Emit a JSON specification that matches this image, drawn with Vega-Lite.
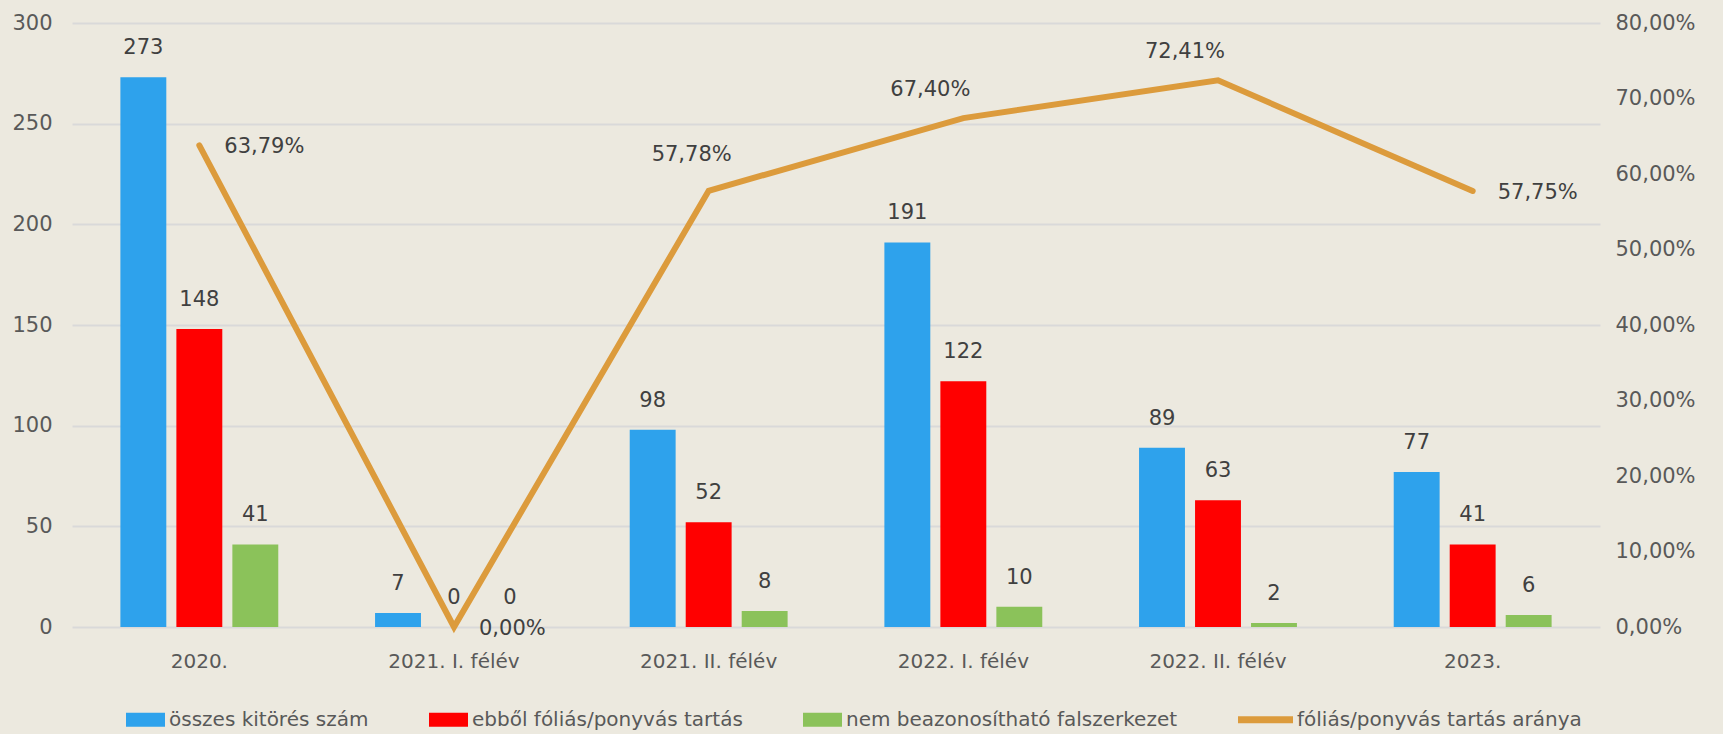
{
  "$schema": "https://vega.github.io/schema/vega-lite/v6.json",
  "width": 1528,
  "height": 604,
  "autosize": {"type": "none"},
  "padding": {"left": 72, "top": 23, "right": 123, "bottom": 107},
  "background": "#ECE9DF",
  "config": {
    "font": "DejaVu Sans",
    "view": {"stroke": null},
    "locale": {"number": {"decimal": ",", "thousands": " ", "grouping": [3], "currency": ["", " Ft"]}}
  },
  "datasets": {
    "bars": [
      {"period": "2020.", "series": "összes kitörés szám", "value": 273},
      {"period": "2020.", "series": "ebből fóliás/ponyvás tartás", "value": 148},
      {"period": "2020.", "series": "nem beazonosítható falszerkezet", "value": 41},
      {"period": "2021. I. félév", "series": "összes kitörés szám", "value": 7},
      {"period": "2021. I. félév", "series": "ebből fóliás/ponyvás tartás", "value": 0},
      {"period": "2021. I. félév", "series": "nem beazonosítható falszerkezet", "value": 0},
      {"period": "2021. II. félév", "series": "összes kitörés szám", "value": 98},
      {"period": "2021. II. félév", "series": "ebből fóliás/ponyvás tartás", "value": 52},
      {"period": "2021. II. félév", "series": "nem beazonosítható falszerkezet", "value": 8},
      {"period": "2022. I. félév", "series": "összes kitörés szám", "value": 191},
      {"period": "2022. I. félév", "series": "ebből fóliás/ponyvás tartás", "value": 122},
      {"period": "2022. I. félév", "series": "nem beazonosítható falszerkezet", "value": 10},
      {"period": "2022. II. félév", "series": "összes kitörés szám", "value": 89},
      {"period": "2022. II. félév", "series": "ebből fóliás/ponyvás tartás", "value": 63},
      {"period": "2022. II. félév", "series": "nem beazonosítható falszerkezet", "value": 2},
      {"period": "2023.", "series": "összes kitörés szám", "value": 77},
      {"period": "2023.", "series": "ebből fóliás/ponyvás tartás", "value": 41},
      {"period": "2023.", "series": "nem beazonosítható falszerkezet", "value": 6}
    ],
    "ratio": [
      {"period": "2020.", "series": "fóliás/ponyvás tartás aránya", "ratio": 0.6379},
      {"period": "2021. I. félév", "series": "fóliás/ponyvás tartás aránya", "ratio": 0.0},
      {"period": "2021. II. félév", "series": "fóliás/ponyvás tartás aránya", "ratio": 0.5778},
      {"period": "2022. I. félév", "series": "fóliás/ponyvás tartás aránya", "ratio": 0.674},
      {"period": "2022. II. félév", "series": "fóliás/ponyvás tartás aránya", "ratio": 0.7241},
      {"period": "2023.", "series": "fóliás/ponyvás tartás aránya", "ratio": 0.5775}
    ]
  },
  "layer": [
    {
      "data": {"name": "bars"},
      "encoding": {
        "x": {
          "field": "period", "type": "nominal",
          "scale": {"domain": ["2020.", "2021. I. félév", "2021. II. félév", "2022. I. félév", "2022. II. félév", "2023."], "paddingInner": 0.38, "paddingOuter": 0.19},
          "axis": {"title": null, "labelAngle": 0, "labelFontSize": 20, "labelColor": "#595959", "ticks": false, "tickSize": 0, "domain": false, "labelPadding": 24, "grid": false}
        },
        "xOffset": {
          "field": "series", "type": "nominal",
          "scale": {"domain": ["összes kitörés szám", "ebből fóliás/ponyvás tartás", "nem beazonosítható falszerkezet"], "paddingInner": 0.18, "paddingOuter": 0}
        },
        "y": {
          "field": "value", "type": "quantitative",
          "scale": {"domain": [0, 300], "nice": false},
          "axis": {"title": null, "values": [0, 50, 100, 150, 200, 250, 300], "grid": true, "gridColor": "#D9D9D9", "gridWidth": 2, "domain": false, "ticks": false, "tickSize": 0, "labelFontSize": 21, "labelColor": "#595959", "labelPadding": 20}
        }
      },
      "layer": [
        {
          "mark": {"type": "bar"},
          "encoding": {
            "color": {
              "field": "series", "type": "nominal",
              "scale": {
                "domain": ["összes kitörés szám", "ebből fóliás/ponyvás tartás", "nem beazonosítható falszerkezet", "fóliás/ponyvás tartás aránya"],
                "range": ["#2EA2EC", "#FF0000", "#8BC25A", "#DC9B3C"]
              },
              "legend": {
                "title": null,
                "orient": "none",
                "direction": "horizontal",
                "columns": 4,
                "legendX": 54,
                "legendY": 677,
                "labelFontSize": 20,
                "labelColor": "#595959",
                "labelOffset": 4,
                "columnPadding": 60,
                "labelLimit": 400,
                "encode": {
                  "symbols": {
                    "update": {
                      "fill": {"scale": "color", "field": "value"},
                      "stroke": {"value": "transparent"},
                      "strokeWidth": {"value": 0},
                      "opacity": {"value": 1},
                      "size": {"value": 1521},
                      "shape": {"signal": "datum.value === 'fóliás/ponyvás tartás aránya' ? 'M-1.82,-0.18H1V0.18H-1.82Z' : 'M-1,-0.36H1V0.36H-1Z'"}
                    }
                  }
                }
              }
            }
          }
        },
        {
          "mark": {"type": "text", "baseline": "middle", "dy": -29, "fontSize": 21, "color": "#404040"},
          "encoding": {"text": {"field": "value", "type": "quantitative"}}
        }
      ]
    },
    {
      "data": {"name": "ratio"},
      "encoding": {
        "x": {
          "field": "period", "type": "nominal",
          "scale": {"domain": ["2020.", "2021. I. félév", "2021. II. félév", "2022. I. félév", "2022. II. félév", "2023."]}
        },
        "y": {
          "field": "ratio", "type": "quantitative",
          "scale": {"domain": [0, 0.8], "nice": false},
          "axis": {"title": null, "orient": "right", "values": [0, 0.1, 0.2, 0.3, 0.4, 0.5, 0.6, 0.7, 0.8], "format": ".2%", "grid": false, "domain": false, "ticks": false, "tickSize": 0, "labelFontSize": 21, "labelColor": "#595959", "labelPadding": 15}
        }
      },
      "layer": [
        {
          "mark": {"type": "line", "strokeWidth": 6, "strokeCap": "round"},
          "encoding": {"color": {"field": "series", "type": "nominal"}}
        },
        {
          "transform": [{"filter": {"field": "period", "oneOf": ["2020.", "2021. I. félév", "2023."]}}],
          "mark": {"type": "text", "align": "left", "baseline": "middle", "dx": 25, "dy": 2, "fontSize": 21, "color": "#404040"},
          "encoding": {"text": {"field": "ratio", "type": "quantitative", "format": ".2%"}}
        },
        {
          "transform": [{"filter": {"field": "period", "oneOf": ["2022. I. félév", "2022. II. félév"]}}],
          "mark": {"type": "text", "align": "center", "baseline": "middle", "dx": -33, "dy": -28, "fontSize": 21, "color": "#404040"},
          "encoding": {"text": {"field": "ratio", "type": "quantitative", "format": ".2%"}}
        },
        {
          "transform": [{"filter": {"field": "period", "equal": "2021. II. félév"}}],
          "mark": {"type": "text", "align": "center", "baseline": "middle", "dx": -17, "dy": -36, "fontSize": 21, "color": "#404040"},
          "encoding": {"text": {"field": "ratio", "type": "quantitative", "format": ".2%"}}
        }
      ]
    }
  ],
  "resolve": {"scale": {"y": "independent"}}
}
